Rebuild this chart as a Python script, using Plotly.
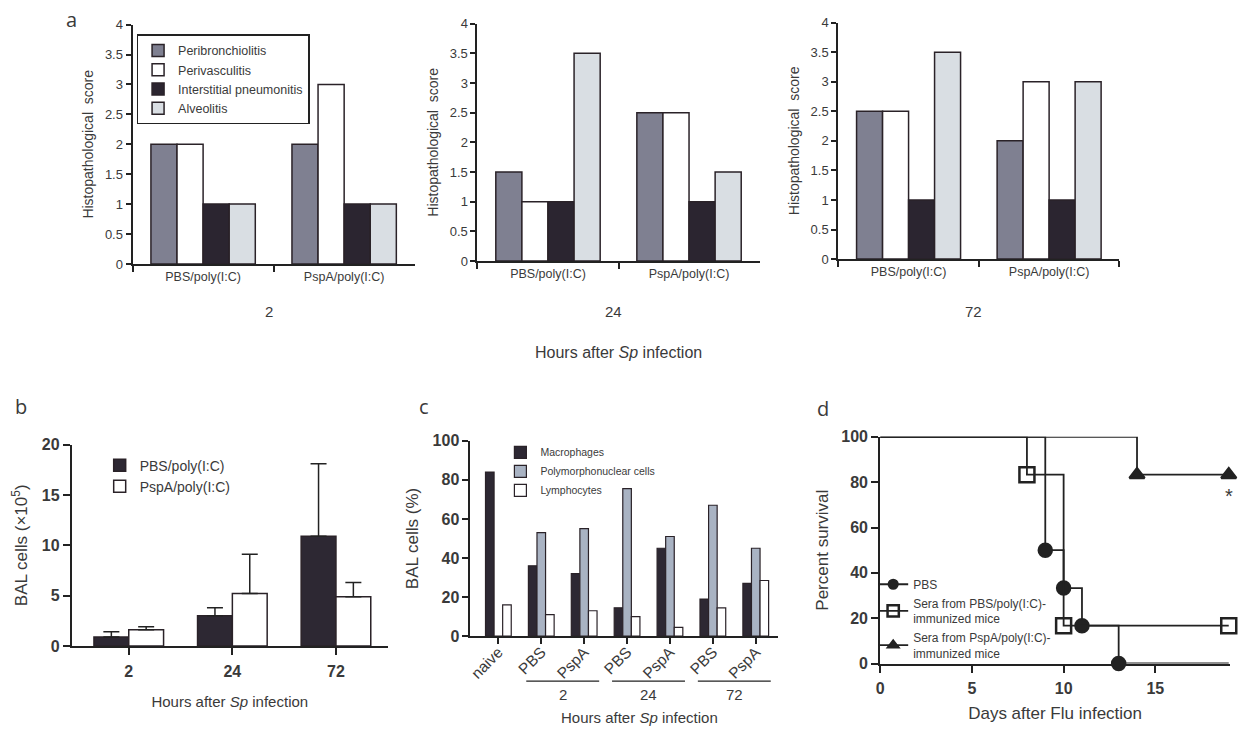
import plotly.graph_objects as go

# ---------------- data ----------------
# Panel a: histopathological scores, groups x series, at 2 / 24 / 72 h
a_groups = ["PBS/poly(I:C)", "PspA/poly(I:C)"]
a_series = ["Peribronchiolitis", "Perivasculitis", "Interstitial pneumonitis", "Alveolitis"]
a_hours = ["2", "24", "72"]
a_2h_peribronchiolitis = [2.0, 2.0]
a_2h_perivasculitis = [2.0, 3.0]
a_2h_interstitial = [1.0, 1.0]
a_2h_alveolitis = [1.0, 1.0]
a_24h_peribronchiolitis = [1.5, 2.5]
a_24h_perivasculitis = [1.0, 2.5]
a_24h_interstitial = [1.0, 1.0]
a_24h_alveolitis = [3.5, 1.5]
a_72h_peribronchiolitis = [2.5, 2.0]
a_72h_perivasculitis = [2.5, 3.0]
a_72h_interstitial = [1.0, 1.0]
a_72h_alveolitis = [3.5, 3.0]

# Panel b: BAL cells (x10^5)
b_hours = ["2", "24", "72"]
b_pbs_mean = [0.9, 3.0, 10.9]
b_pbs_err = [0.5, 0.8, 7.2]
b_pspa_mean = [1.6, 5.2, 4.9]
b_pspa_err = [0.3, 3.9, 1.4]

# Panel c: BAL cell composition (%)
c_labels = ["naive", "PBS", "PspA", "PBS", "PspA", "PBS", "PspA"]
c_macrophages = [84, 36, 32, 14.5, 45, 19, 27]
c_pmn = [0, 53, 55, 75.5, 51, 67, 45]
c_lymphocytes = [16, 11, 13, 10, 4.5, 14.5, 28.5]
c_hour_labels = ["2", "24", "72"]
c_hour_members = [(1, 2), (3, 4), (5, 6)]

# Panel d: survival
d_pbs_days = [0, 9, 10, 11, 13, 19]
d_pbs_surv = [100, 50, 33.3, 16.7, 0, 0]
d_serapbs_days = [0, 8, 10, 19]
d_serapbs_surv = [100, 83.3, 16.7, 16.7]
d_serapspa_days = [0, 14, 19]
d_serapspa_surv = [100, 83.3, 83.3]

# ---------------- styling ----------------
W, H = 1240, 737
FONT = "Liberation Sans, Arial, sans-serif"
TXT = "#3a3a3a"
AX = "#222222"
OUT = "#2a2228"

def px(x):
    return x / W

def py(y):
    return 1 - y / H

a_colors = ["#7f8091", "#ffffff", "#2b2530", "#d9dee3"]
b_colors = ["#2d2833", "#ffffff"]
c_colors = ["#2d2833", "#a9b3c3", "#ffffff"]

fig = go.Figure()

# ---- panel a ----
a_data = {
    "2": [a_2h_peribronchiolitis, a_2h_perivasculitis, a_2h_interstitial, a_2h_alveolitis],
    "24": [a_24h_peribronchiolitis, a_24h_perivasculitis, a_24h_interstitial, a_24h_alveolitis],
    "72": [a_72h_peribronchiolitis, a_72h_perivasculitis, a_72h_interstitial, a_72h_alveolitis],
}
a_w = 0.185
for k, hr in enumerate(a_hours):
    xa = "x" if k == 0 else f"x{k+1}"
    ya = "y" if k == 0 else f"y{k+1}"
    for i, name in enumerate(a_series):
        fig.add_trace(go.Bar(
            x=a_groups, y=a_data[hr][i], name=name,
            xaxis=xa, yaxis=ya,
            width=a_w, offset=-2 * a_w + i * a_w,
            marker=dict(color=a_colors[i], line=dict(color=OUT, width=1.5)),
            showlegend=(k == 0), legend="legend",
        ))

# ---- panel b ----
b_w = 0.336
for i, (name, m, e) in enumerate([("PBS/poly(I:C)", b_pbs_mean, b_pbs_err),
                                   ("PspA/poly(I:C)", b_pspa_mean, b_pspa_err)]):
    fig.add_trace(go.Bar(
        x=b_hours, y=m, name=name, xaxis="x4", yaxis="y4",
        width=b_w, offset=-b_w + i * b_w,
        marker=dict(color=b_colors[i], line=dict(color=OUT, width=1.5)),
        error_y=dict(type="data", array=e, arrayminus=[0] * len(e), symmetric=False,
                     color=AX, thickness=1.5, width=8),
        legend="legend2",
    ))

# ---- panel c ----
c_w = 0.2
c_x = list(range(len(c_labels)))
for i, (name, vals) in enumerate([("Macrophages", c_macrophages),
                                  ("Polymorphonuclear cells", c_pmn),
                                  ("Lymphocytes", c_lymphocytes)]):
    fig.add_trace(go.Bar(
        x=c_x, y=vals, name=name, xaxis="x5", yaxis="y5",
        width=c_w, offset=-1.5 * c_w + i * c_w,
        marker=dict(color=c_colors[i], line=dict(color=OUT, width=1.2)),
        legend="legend3",
    ))

# ---- panel d ----
def sizes(n, s, last_marker=True):
    out = [0] + [s] * (n - 1)
    if not last_marker:
        out[-1] = 0
    return out

d_traces = [
    ("PBS", d_pbs_days, d_pbs_surv, "circle", 13, False),
    ("Sera from PBS/poly(I:C)-<br>immunized mice", d_serapbs_days, d_serapbs_surv, "square-open", 15, True),
    ("Sera from PspA/poly(I:C)-<br>immunized mice", d_serapspa_days, d_serapspa_surv, "triangle-up", 13, True),
]
for name, xs, ys, sym, s, last in d_traces:
    fig.add_trace(go.Scatter(
        x=xs, y=ys, name=name, xaxis="x6", yaxis="y6",
        mode="lines+markers", line=dict(shape="hv", color=AX, width=1.8),
        marker=dict(symbol=sym, size=sizes(len(xs), s, last), color=AX, opacity=1,
                    line=dict(color=AX, width=2.5)),
        cliponaxis=False, legend="legend4",
    ))

# ---------------- axes ----------------
def base_axis(**kw):
    d = dict(showline=True, linecolor=AX, linewidth=2, ticks="outside", tickcolor=AX,
             tickwidth=2, ticklen=5, showgrid=False, zeroline=False,
             tickfont=dict(family=FONT, size=12, color=TXT))
    d.update(kw)
    return d

a_xdom = [[px(129), px(412)], [px(475), px(758)], [px(837), px(1119)]]
a_ydom = [[py(262), py(17)], [py(259), py(16)], [py(257), py(15)]]
layout = {}
for k in range(3):
    sx = "xaxis" if k == 0 else f"xaxis{k+1}"
    sy = "yaxis" if k == 0 else f"yaxis{k+1}"
    xa = "x" if k == 0 else f"x{k+1}"
    ya = "y" if k == 0 else f"y{k+1}"
    layout[sx] = base_axis(domain=a_xdom[k], anchor=ya, type="category",
                           range=[-0.5, 1.5], tickson="boundaries", ticklen=6,
                           tickfont=dict(family=FONT, size=12.5, color=TXT))
    layout[sy] = base_axis(domain=a_ydom[k], anchor=xa, range=[0, 4],
                           tickvals=[0, 0.5, 1, 1.5, 2, 2.5, 3, 3.5, 4],
                           ticktext=["0", "0.5", "1", "1.5", "2", "2.5", "3", "3.5", "4"],
                           tickfont=dict(family=FONT, size=13, color=TXT),
                           title=dict(text="Histopathological  score",
                                      font=dict(family=FONT, size=14, color=TXT), standoff=8))

bold16 = dict(family=FONT, size=16, color=TXT, weight="bold")
layout["xaxis4"] = base_axis(domain=[px(68), px(385)], anchor="y4", type="category",
                             range=[-0.55, 2.5], tickfont=bold16, ticklen=7,
                             ticklabelstandoff=3,
                             title=dict(text="Hours after <i>Sp</i> infection",
                                        font=dict(family=FONT, size=15, color=TXT), standoff=17))
layout["yaxis4"] = base_axis(domain=[py(653), py(447)], anchor="x4", range=[0, 20], dtick=5,
                             tickfont=bold16, ticklen=7,
                             title=dict(text="BAL cells (×10<sup>5</sup>)",
                                        font=dict(family=FONT, size=17, color=TXT), standoff=10))

layout["xaxis5"] = base_axis(domain=[px(468), px(777)], anchor="y5", range=[-0.65, 6.53],
                             tickvals=c_x, ticktext=c_labels, tickangle=-45, ticklen=6,
                             ticklabelstandoff=-7,
                             tickfont=dict(family=FONT, size=15.5, color=TXT))
layout["yaxis5"] = base_axis(domain=[py(643), py(443)], anchor="x5", range=[0, 100], dtick=20,
                             ticklen=6,
                             tickfont=dict(family=FONT, size=16, color=TXT, weight="bold"),
                             title=dict(text="BAL cells (%)",
                                        font=dict(family=FONT, size=17, color=TXT), standoff=10))

layout["xaxis6"] = base_axis(domain=[px(879), px(1230)], anchor="y6", range=[0, 19.07],
                             tickvals=[0, 5, 10, 15], tickfont=bold16, ticklen=7,
                             ticklabelstandoff=2,
                             title=dict(text="Days after Flu infection",
                                        font=dict(family=FONT, size=17, color=TXT), standoff=11))
layout["yaxis6"] = base_axis(domain=[py(671), py(439)], anchor="x6", range=[0, 100], dtick=20,
                             tickfont=bold16, ticklen=7,
                             title=dict(text="Percent survival",
                                        font=dict(family=FONT, size=17, color=TXT), standoff=8))

# ---------------- legends ----------------
legends = dict(
    legend=dict(x=px(133), y=py(27), xanchor="left", yanchor="top", bgcolor="white",
                bordercolor=AX, borderwidth=1.5, font=dict(family=FONT, size=12.5, color=TXT),
                tracegroupgap=0, itemwidth=30),
    legend2=dict(x=px(96), y=py(452), xanchor="left", yanchor="top", bgcolor="rgba(0,0,0,0)",
                 font=dict(family=FONT, size=14, color=TXT), itemwidth=30),
    legend3=dict(x=px(498), y=py(440), xanchor="left", yanchor="top", bgcolor="rgba(0,0,0,0)",
                 font=dict(family=FONT, size=10.5, color=TXT), itemwidth=30),
    legend4=dict(x=px(872), y=py(575), xanchor="left", yanchor="top", bgcolor="rgba(0,0,0,0)",
                 font=dict(family=FONT, size=12, color=TXT), itemwidth=30, tracegroupgap=0),
)

# ---------------- annotations & shapes ----------------
ann = []

def note(text, x, y, xref="paper", yref="paper", font=None):
    ann.append(dict(text=text, x=x, y=y, xref=xref, yref=yref, showarrow=False,
                    xanchor="center", yanchor="middle", font=font))

lab_font = dict(family="Open Sans, Liberation Sans, sans-serif", size=20, color=TXT)
for txt, x, y in [("a", 68, 12), ("b", 17, 408), ("c", 421, 408), ("d", 822, 410)]:
    note(txt, px(x), py(y), font=lab_font)
for k, hr in enumerate(a_hours):
    xm = (a_xdom[k][0] + a_xdom[k][1]) / 2
    note(hr, xm - px(5), py(311), font=dict(family=FONT, size=15, color=TXT))
note("Hours after <i>Sp</i> infection", (a_xdom[1][0] + a_xdom[1][1]) / 2, py(353),
     font=dict(family=FONT, size=16, color=TXT))

shapes = []
for lbl, (i0, i1) in zip(c_hour_labels, c_hour_members):
    shapes.append(dict(type="line", xref="x5", yref="paper", x0=i0 - 0.35, x1=i1 + 0.35,
                       y0=py(689), y1=py(689), line=dict(color=AX, width=1.2)))
    note(lbl, (i0 + i1) / 2, py(703), xref="x5", font=dict(family=FONT, size=15, color=TXT))
note("Hours after <i>Sp</i> infection", (c_x[0] + c_x[-1]) / 2 + 0.3, py(726), xref="x5",
     font=dict(family=FONT, size=15, color=TXT))
note("*", d_serapspa_days[-1], 74, xref="x6", yref="y6",
     font=dict(family=FONT, size=20, color=TXT))

fig.update_layout(
    width=W, height=H, margin=dict(l=0, r=0, t=0, b=0, pad=0),
    paper_bgcolor="white", plot_bgcolor="white", barmode="overlay",
    font=dict(family=FONT, color=TXT), annotations=ann, shapes=shapes,
    **layout, **legends,
)

fig.write_html("out.html", config={"displayModeBar": False},
               post_script="document.body.style.margin='0';")
